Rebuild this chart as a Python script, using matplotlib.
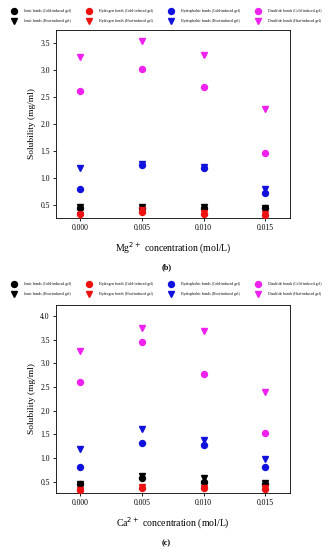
import matplotlib
matplotlib.use('Agg')
import matplotlib.pyplot as plt
from matplotlib.lines import Line2D

plt.rcParams['font.family'] = ['Liberation Serif', 'DejaVu Serif']

conc = [0.000, 0.005, 0.010, 0.015]
xticks = ['0.000', '0.005', '0.010', '0.015']

# panel (b): Mg2+
mg_ionic_cold = [0.45, 0.45, 0.45, 0.45]
mg_ionic_heat = [0.46, 0.47, 0.46, 0.45]
mg_hydrogen_cold = [0.33, 0.37, 0.33, 0.32]
mg_hydrogen_heat = [0.32, 0.40, 0.36, 0.33]
mg_hydrophobic_cold = [0.79, 1.25, 1.18, 0.73]
mg_hydrophobic_heat = [1.18, 1.26, 1.21, 0.80]
mg_disulfide_cold = [2.61, 3.01, 2.69, 1.47]
mg_disulfide_heat = [3.24, 3.54, 3.28, 2.27]

# panel (c): Ca2+
ca_ionic_cold = [0.45, 0.58, 0.50, 0.45]
ca_ionic_heat = [0.46, 0.62, 0.57, 0.48]
ca_hydrogen_cold = [0.33, 0.37, 0.36, 0.35]
ca_hydrogen_heat = [0.32, 0.38, 0.37, 0.37]
ca_hydrophobic_cold = [0.80, 1.31, 1.27, 0.80]
ca_hydrophobic_heat = [1.18, 1.62, 1.38, 0.98]
ca_disulfide_cold = [2.61, 3.44, 2.78, 1.52]
ca_disulfide_heat = [3.25, 3.74, 3.69, 2.39]

labels = ['Ionic bonds', 'Hydrogen bonds', 'Hydrophobic bonds', 'Disulfide bonds']
colors = ['black', '#ee1111', '#1111dd', '#ee22ee']

MS_O = 4.3
MS_V = 4.6


def draw_panel(ax, cold, heat, ylim, yticks, xlabel):
    for c, h, col in zip(cold, heat, colors):
        ax.plot(conc, c, 'o', color=col, ms=MS_O, zorder=3)
        ax.plot(conc, h, 'v', color=col, ms=MS_V, zorder=3)
    ax.set_xlim(-0.00195, 0.017)
    ax.set_ylim(*ylim)
    ax.set_xticks(conc)
    ax.set_xticklabels(xticks)
    ax.set_yticks(yticks)
    ax.set_yticklabels(['%.1f' % v for v in yticks])
    ax.tick_params(labelsize=5.5, length=2.5, width=0.6, pad=2)
    for s in ax.spines.values():
        s.set_linewidth(0.6)
    ax.set_ylabel('Solubility (mg/ml)', fontsize=6.8, labelpad=3)
    ax.set_xlabel(xlabel, fontsize=7, labelpad=6)


def add_legend(fig, y):
    handles = []
    names = []
    for lab, col in zip(labels, colors):
        handles.append(Line2D([], [], ls='', marker='o', color=col, ms=MS_O))
        names.append(lab + ' (Cold-induced gel)')
        handles.append(Line2D([], [], ls='', marker='v', color=col, ms=MS_V))
        names.append(lab + ' (Heat-induced gel)')
    fig.legend(handles, names, ncol=4, loc='center', bbox_to_anchor=(0.5, y),
               fontsize=2.7, frameon=False, handlelength=1.5, handletextpad=2.0,
               columnspacing=3.9, labelspacing=1.6)


fig = plt.figure(figsize=(3.33, 5.5), dpi=100)

ax_b = fig.add_axes([0.168, 0.6036, 0.703, 0.342])
draw_panel(ax_b, [mg_ionic_cold, mg_hydrogen_cold, mg_hydrophobic_cold, mg_disulfide_cold],
           [mg_ionic_heat, mg_hydrogen_heat, mg_hydrophobic_heat, mg_disulfide_heat],
           (0.26, 3.74), [0.5, 1.0, 1.5, 2.0, 2.5, 3.0, 3.5],
           'Mg$^{2+}$ concentration (mol/L)')
add_legend(fig, 1 - 16 / 550)
fig.text(0.5, 1 - 267 / 550, '(b)', fontsize=6, fontweight='bold', ha='center', va='center')

ax_c = fig.add_axes([0.168, 0.1036, 0.703, 0.342])
draw_panel(ax_c, [ca_ionic_cold, ca_hydrogen_cold, ca_hydrophobic_cold, ca_disulfide_cold],
           [ca_ionic_heat, ca_hydrogen_heat, ca_hydrophobic_heat, ca_disulfide_heat],
           (0.26, 4.23), [0.5, 1.0, 1.5, 2.0, 2.5, 3.0, 3.5, 4.0],
           'Ca$^{2+}$ concentration (mol/L)')
add_legend(fig, 1 - 289.5 / 550)
fig.text(0.5, 1 - 543 / 550, '(c)', fontsize=6, fontweight='bold', ha='center', va='center')

fig.savefig('out.png', dpi=100)
